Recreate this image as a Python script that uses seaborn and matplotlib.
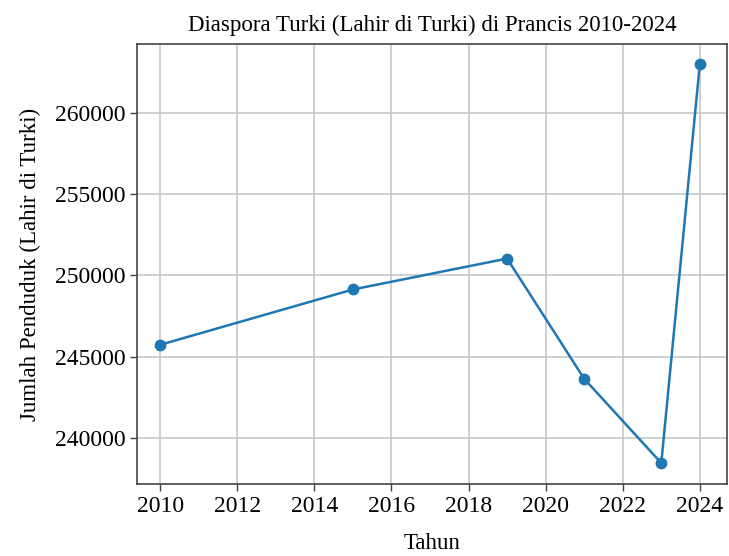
import matplotlib
matplotlib.use("Agg")
import matplotlib.pyplot as plt
import pandas as pd
import seaborn as sns

years = [2010, 2015, 2019, 2021, 2023, 2024]
population = [245740, 249140, 251040, 243650, 238470, 263000]
x_ticks = [2010, 2012, 2014, 2016, 2018, 2020, 2022, 2024]


def main():
    df = pd.DataFrame({"Tahun": years, "Jumlah": population})

    sns.set_theme(style="whitegrid")
    plt.rcParams["font.family"] = ["Liberation Serif", "DejaVu Serif"]
    plt.rcParams["text.color"] = "black"
    plt.rcParams["axes.labelcolor"] = "black"
    plt.rcParams["xtick.color"] = "black"
    plt.rcParams["ytick.color"] = "black"

    fig, ax = plt.subplots(figsize=(7.29, 5.56), dpi=100)
    sns.lineplot(data=df, x="Tahun", y="Jumlah", marker="o", markersize=8.5,
                 color="#1f77b4", linewidth=1.8, markeredgewidth=0, ax=ax)

    ax.set_xticks(x_ticks)
    ax.set_yticks([240000, 245000, 250000, 255000, 260000])
    ax.set_xlim(2009.4, 2024.7)
    ax.set_ylim(237200, 264200)
    ax.grid(True, color="#c8c8c8", linewidth=1.2)
    for s in ax.spines.values():
        s.set_color("#444444")
        s.set_linewidth(1.2)
    ax.tick_params(axis="both", which="major", labelsize=17, length=5,
                   width=1, color="#444444", bottom=True, left=True)

    ax.set_title("Diaspora Turki (Lahir di Turki) di Prancis 2010-2024", fontsize=16.5, pad=10)
    ax.set_xlabel("Tahun", fontsize=16.5, labelpad=12)
    ax.set_ylabel("Jumlah Penduduk (Lahir di Turki)", fontsize=16.5, labelpad=10)

    fig.subplots_adjust(left=0.188, right=0.997, top=0.92, bottom=0.13)
    fig.savefig("out.png", dpi=100)
    plt.close(fig)


if __name__ == "__main__":
    main()
